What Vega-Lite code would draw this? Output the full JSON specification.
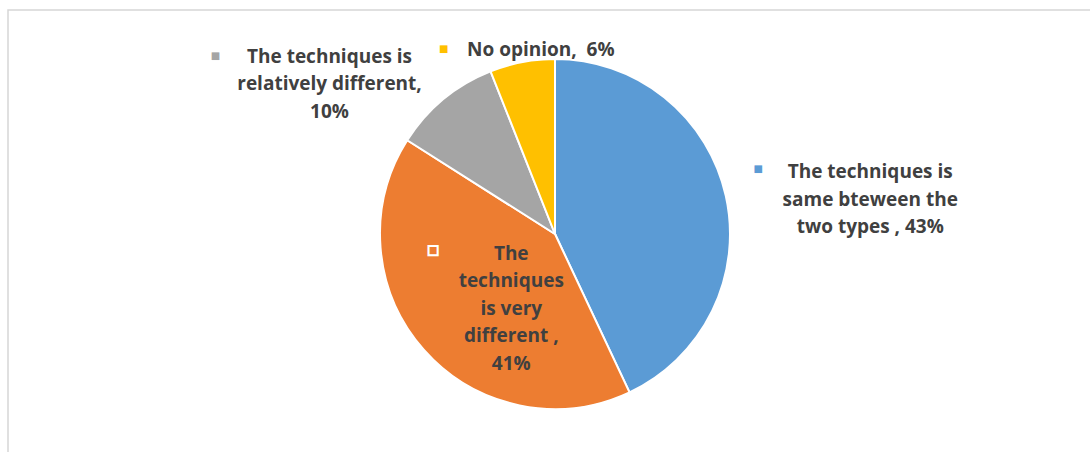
{
  "$schema": "https://vega.github.io/schema/vega-lite/v6.json",
  "width": 1094,
  "height": 448,
  "autosize": {"type": "none"},
  "padding": {"left": 8, "top": 10, "right": 0, "bottom": 0},
  "background": "white",
  "view": {"stroke": "#D6D6D6", "strokeWidth": 1.5},
  "config": {"view": {"stroke": "#D6D6D6", "strokeWidth": 1.5}},
  "data": {"values": [
    {"category": "same", "label": "The techniques is\nsame bteween the\ntwo types , 43%", "value": 43, "rank": 1},
    {"category": "very", "label": "The\ntechniques\nis very\ndifferent ,\n41%", "value": 41, "rank": 2},
    {"category": "relatively", "label": "The techniques is\nrelatively different,\n10%", "value": 10, "rank": 3},
    {"category": "none", "label": "No opinion,\u00a0 6%", "value": 6, "rank": 4}
  ]},
  "encoding": {
    "theta": {"field": "value", "type": "quantitative", "stack": true},
    "order": {"field": "rank", "type": "quantitative"}
  },
  "layer": [
    {
      "mark": {"type": "arc", "outerRadius": 175, "stroke": "white", "strokeWidth": 2},
      "encoding": {
        "color": {"field": "category", "type": "nominal", "legend": null,
          "scale": {"domain": ["same", "very", "relatively", "none"], "range": ["#5B9BD5", "#ED7D31", "#A5A5A5", "#FFC000"]}}
      }
    },
    {
      "mark": {"type": "text", "radius": 323, "dy": 8.5, "font": "Open Sans", "fontWeight": "bold", "fontSize": 19, "lineBreak": "\n", "lineHeight": 27.5, "fill": "#404040", "align": "center", "baseline": "middle"},
      "encoding": {"text": {"condition": {"test": "datum.category === 'same'", "field": "label"}, "value": ""}}
    },
    {
      "mark": {"type": "text", "radius": 65, "dx": 5, "dy": -23, "font": "Open Sans", "fontWeight": "bold", "fontSize": 19, "lineBreak": "\n", "lineHeight": 27.5, "fill": "#404040", "align": "center", "baseline": "middle"},
      "encoding": {"text": {"condition": {"test": "datum.category === 'very'", "field": "label"}, "value": ""}}
    },
    {
      "mark": {"type": "text", "radius": 200, "dx": -98, "dy": -23, "font": "Open Sans", "fontWeight": "bold", "fontSize": 19, "lineBreak": "\n", "lineHeight": 27.5, "fill": "#404040", "align": "center", "baseline": "middle"},
      "encoding": {"text": {"condition": {"test": "datum.category === 'relatively'", "field": "label"}, "value": ""}}
    },
    {
      "mark": {"type": "text", "radius": 188, "dx": 21, "dy": 1, "font": "Open Sans", "fontWeight": "bold", "fontSize": 19, "lineBreak": "\n", "lineHeight": 27.5, "fill": "#404040", "align": "center", "baseline": "middle"},
      "encoding": {"text": {"condition": {"test": "datum.category === 'none'", "field": "label"}, "value": ""}}
    },
    {
      "mark": {"type": "text", "radius": 323, "dx": -112, "dy": 5, "font": "DejaVu Sans", "fontSize": 10, "align": "center", "baseline": "middle"},
      "encoding": {
        "text": {"condition": {"test": "datum.category === 'same'", "value": "■"}, "value": ""},
        "color": {"field": "category", "type": "nominal", "legend": null}
      }
    },
    {
      "mark": {"type": "text", "radius": 65, "dx": -73, "dy": -27, "font": "DejaVu Sans", "fontSize": 12, "stroke": "white", "strokeWidth": 2, "align": "center", "baseline": "middle"},
      "encoding": {
        "text": {"condition": {"test": "datum.category === 'very'", "value": "■"}, "value": ""},
        "color": {"field": "category", "type": "nominal", "legend": null}
      }
    },
    {
      "mark": {"type": "text", "radius": 200, "dx": -212, "dy": -24, "font": "DejaVu Sans", "fontSize": 10, "align": "center", "baseline": "middle"},
      "encoding": {
        "text": {"condition": {"test": "datum.category === 'relatively'", "value": "■"}, "value": ""},
        "color": {"field": "category", "type": "nominal", "legend": null}
      }
    },
    {
      "mark": {"type": "text", "radius": 188, "dx": -76, "dy": 0, "font": "DejaVu Sans", "fontSize": 10, "align": "center", "baseline": "middle"},
      "encoding": {
        "text": {"condition": {"test": "datum.category === 'none'", "value": "■"}, "value": ""},
        "color": {"field": "category", "type": "nominal", "legend": null}
      }
    }
  ]
}
